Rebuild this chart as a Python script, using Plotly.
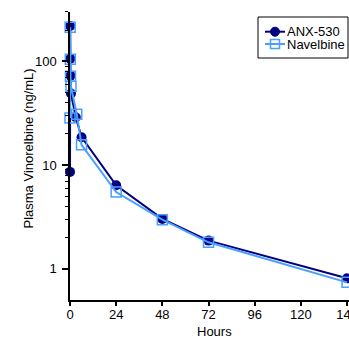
import plotly.graph_objects as go

# Data
anx_hours = [0, 0.083, 0.167, 0.25, 0.5, 3, 6, 24, 48, 72, 144]
anx_conc = [8.6, 220, 106, 73, 49, 29, 18.6, 6.4, 3.03, 1.87, 0.81]

nav_hours = [0, 0.083, 0.167, 0.25, 0.5, 3.5, 6, 24, 48, 72, 144]
nav_conc = [28.5, 214, 105, 72, 57.5, 31, 15.7, 5.5, 2.98, 1.80, 0.74]

x_ticks = [0, 24, 48, 72, 96, 120, 144]
y_ticks = [1, 10, 100]
y_minor = [2, 3, 4, 5, 6, 7, 8, 9, 20, 30, 40, 50, 60, 70, 80, 90, 200, 300]

ANX_COLOR = "#000080"
NAV_COLOR = "#4A9EFF"
FONT = "Arial, 'Liberation Sans', sans-serif"

fig = go.Figure()
fig.add_trace(go.Scatter(
    x=anx_hours, y=anx_conc, mode="lines+markers", name="ANX-530",
    line=dict(color=ANX_COLOR, width=2),
    marker=dict(symbol="circle", size=10, color=ANX_COLOR),
    cliponaxis=False, showlegend=False,
))
fig.add_trace(go.Scatter(
    x=nav_hours, y=nav_conc, mode="lines+markers", name="Navelbine",
    line=dict(color=NAV_COLOR, width=2),
    marker=dict(symbol="square-open", size=10, color=NAV_COLOR, line=dict(width=1.5, color=NAV_COLOR)),
    cliponaxis=False, showlegend=False,
))

# Pixel -> paper helpers (plot area 70..349 x 12..300)
W, H = 279.0, 288.0
def px(x):
    return (x - 70) / W
def py(y):
    return (300 - y) / H

shapes = [
    dict(type="rect", xref="paper", yref="paper", x0=px(258), x1=px(348), y0=py(58), y1=py(17),
         line=dict(color="black", width=1), fillcolor="white", layer="above"),
]
rows = [("ANX-530", 31.7, ANX_COLOR, "circle"), ("Navelbine", 44.0, NAV_COLOR, "square")]
annotations = []
for label, yy, col, sym in rows:
    shapes.append(dict(type="line", xref="paper", yref="paper", x0=px(265), x1=px(285),
                       y0=py(yy), y1=py(yy), line=dict(color=col, width=2), layer="above"))
    if sym == "circle":
        shapes.append(dict(type="circle", xref="paper", yref="paper", xsizemode="pixel", ysizemode="pixel",
                           xanchor=px(275), yanchor=py(yy), x0=-4.5, x1=4.5, y0=-4.5, y1=4.5,
                           fillcolor=col, line=dict(color=col, width=1), layer="above"))
    else:
        shapes.append(dict(type="rect", xref="paper", yref="paper", xsizemode="pixel", ysizemode="pixel",
                           xanchor=px(275), yanchor=py(yy), x0=-4.5, x1=4.5, y0=-4.5, y1=4.5,
                           fillcolor="rgba(0,0,0,0)", line=dict(color=col, width=1.5), layer="above"))
    annotations.append(dict(xref="paper", yref="paper", x=px(285), y=py(yy), text=label,
                            showarrow=False, xanchor="left", yanchor="middle",
                            font=dict(family=FONT, size=13, color="black")))

# Axis titles
annotations.append(dict(xref="paper", yref="paper", x=px(214), y=py(331), text="Hours",
                        showarrow=False, xanchor="center", yanchor="middle",
                        font=dict(family=FONT, size=13, color="black")))
annotations.append(dict(xref="paper", yref="paper", x=px(27.5), y=py(149), text="Plasma Vinorelbine (ng/mL)",
                        showarrow=False, xanchor="center", yanchor="middle", textangle=-90,
                        font=dict(family=FONT, size=13, color="black")))

fig.update_layout(
    width=349, height=340,
    margin=dict(l=70, r=0, t=12, b=40, autoexpand=False),
    paper_bgcolor="white", plot_bgcolor="white",
    font=dict(family=FONT, size=13, color="black"),
    shapes=shapes, annotations=annotations,
    xaxis=dict(
        range=[0, 145], tickvals=x_ticks, ticks="outside", ticklen=4, tickwidth=1.5, tickcolor="black",
        showline=True, linecolor="black", linewidth=1.5, showgrid=False, zeroline=False,
        tickfont=dict(size=13), ticklabeloverflow="allow", automargin=False, ticklabelstandoff=-2,
    ),
    yaxis=dict(
        type="log", range=[-0.301, 2.477], tickvals=y_ticks, ticktext=["1", "10", "100"],
        ticks="outside", ticklen=6, tickwidth=1.5, tickcolor="black", ticklabelstandoff=3,
        minor=dict(tickvals=y_minor, ticks="outside", ticklen=3, tickwidth=1, tickcolor="black", showgrid=False),
        showline=True, linecolor="black", linewidth=1.5, showgrid=False, zeroline=False,
        tickfont=dict(size=13), automargin=False,
    ),
)

fig.write_html(
    "out.html",
    config={"displayModeBar": False},
    post_script="document.body.style.margin='0';document.body.style.overflow='hidden';",
)
